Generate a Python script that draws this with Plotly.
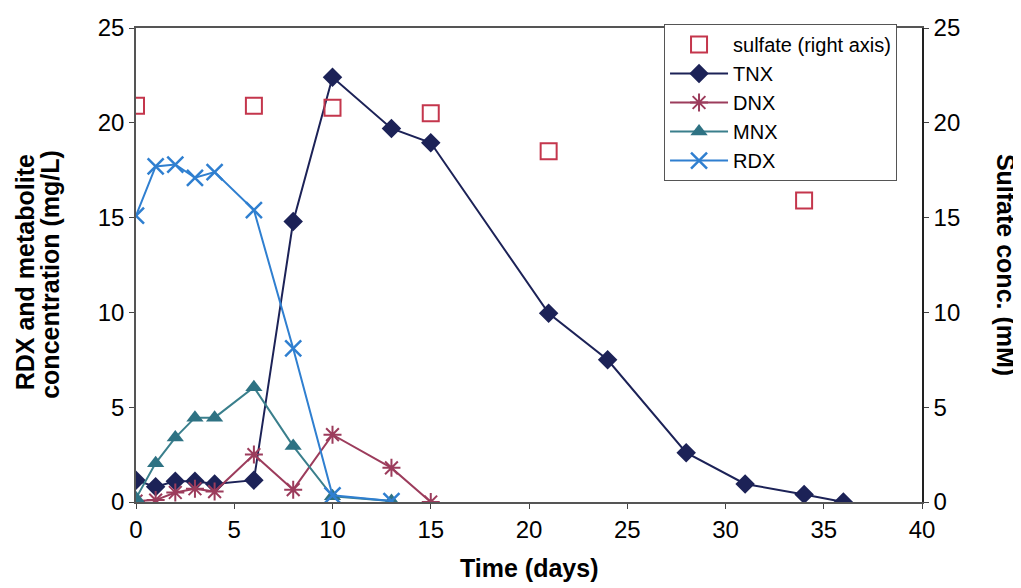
import plotly.graph_objects as go

# ---- data ----
tnx_t = [0, 1, 2, 3, 4, 6, 8, 10, 13, 15, 21, 24, 28, 31, 34, 36]
tnx_v = [1.15, 0.8, 1.1, 1.1, 0.95, 1.15, 14.8, 22.4, 19.7, 18.95, 9.95, 7.5, 2.6, 0.95, 0.4, 0.0]

dnx_t = [0, 1, 2, 3, 4, 6, 8, 10, 13, 15]
dnx_v = [0.05, 0.1, 0.5, 0.7, 0.55, 2.5, 0.65, 3.55, 1.8, 0.0]

mnx_t = [0, 1, 2, 3, 4, 6, 8, 10, 13]
mnx_v = [0.2, 2.05, 3.4, 4.45, 4.45, 6.05, 2.95, 0.3, 0.05]

rdx_t = [0, 1, 2, 3, 4, 6, 8, 10, 13]
rdx_v = [15.1, 17.7, 17.8, 17.1, 17.4, 15.4, 8.1, 0.35, 0.05]

sulf_t = [0, 6, 10, 15, 21, 34]
sulf_v = [20.9, 20.9, 20.8, 20.5, 18.5, 15.9]

x_ticks = [0, 5, 10, 15, 20, 25, 30, 35, 40]
y_ticks = [0, 5, 10, 15, 20, 25]

FONT = "Liberation Sans, Arial, sans-serif"
TICK = 24
TITLE = 25

fig = go.Figure()

fig.add_trace(go.Scatter(
    x=sulf_t, y=sulf_v, name="sulfate (right axis)", mode="markers", yaxis="y2",
    marker=dict(symbol="square-open", size=16, color="#c4364c", line=dict(width=2))))
fig.add_trace(go.Scatter(
    x=tnx_t, y=tnx_v, name="TNX", mode="lines+markers",
    line=dict(color="#1c2257", width=2),
    marker=dict(symbol="diamond", size=15, color="#1c2257")))
fig.add_trace(go.Scatter(
    x=dnx_t, y=dnx_v, name="DNX", mode="lines+markers",
    line=dict(color="#9c3c5c", width=2),
    marker=dict(symbol="asterisk-open", size=15, color="#9c3c5c", line=dict(width=2, color="#9c3c5c"))))
fig.add_trace(go.Scatter(
    x=mnx_t, y=mnx_v, name="MNX", mode="lines+markers",
    line=dict(color="#3a7f8c", width=2),
    marker=dict(symbol="triangle-up", size=15, color="#2e7283")))
fig.add_trace(go.Scatter(
    x=rdx_t, y=rdx_v, name="RDX", mode="lines+markers",
    line=dict(color="#2f7fd0", width=2),
    marker=dict(symbol="x-thin-open", size=16, color="#2f7fd0", line=dict(width=2.5, color="#2f7fd0"))))

fig.update_layout(
    width=1013, height=580,
    margin=dict(l=128, r=99, t=20, b=86, autoexpand=False),
    paper_bgcolor="white", plot_bgcolor="white",
    font=dict(family=FONT, size=TICK, color="black"),
    showlegend=True,
    legend=dict(x=0.6718, y=1.0084, xanchor="left", yanchor="top",
                bgcolor="white", bordercolor="#555555", borderwidth=1,
                font=dict(size=20, family=FONT), tracegroupgap=0, itemwidth=58),
    xaxis=dict(range=[0, 40], tickvals=x_ticks, ticks="outside", ticklen=5,
               showline=True, linecolor="#555555", linewidth=1.5, mirror=True,
               showgrid=False, zeroline=False, tickfont=dict(size=TICK)),
    yaxis=dict(range=[0, 25], tickvals=y_ticks, ticks="outside", ticklen=5,
               ticksuffix="\u2002",
               showline=True, linecolor="#555555", linewidth=1.5,
               showgrid=False, zeroline=False, tickfont=dict(size=TICK)),
    yaxis2=dict(range=[0, 25], tickvals=y_ticks, ticks="outside", ticklen=5,
                tickprefix="\u2002\u00a0",
                overlaying="y", side="right",
                showline=True, linecolor="#222222", linewidth=1.5,
                showgrid=False, zeroline=False, tickfont=dict(size=TICK)),
)

# axis titles as annotations
fig.add_annotation(text="<b>Time (days)</b>", xref="paper", yref="paper",
                   x=0.5, y=-0.139, xanchor="center", yanchor="middle",
                   showarrow=False, font=dict(size=TITLE, family=FONT))
fig.add_annotation(text="<b>RDX and metabolite</b>",
                   xref="paper", yref="paper", x=-0.141, y=0.485,
                   xanchor="center", yanchor="middle", textangle=-90,
                   showarrow=False, font=dict(size=TITLE, family=FONT))
fig.add_annotation(text="<b>concentration (mg/L)</b>",
                   xref="paper", yref="paper", x=-0.109, y=0.48,
                   xanchor="center", yanchor="middle", textangle=-90,
                   showarrow=False, font=dict(size=TITLE, family=FONT))
fig.add_annotation(text="<b>Sulfate conc. (mM)</b>",
                   xref="paper", yref="paper", x=1.107, y=0.5,
                   xanchor="center", yanchor="middle", textangle=90,
                   showarrow=False, font=dict(size=TITLE, family=FONT))

fig.write_html("out.html")
